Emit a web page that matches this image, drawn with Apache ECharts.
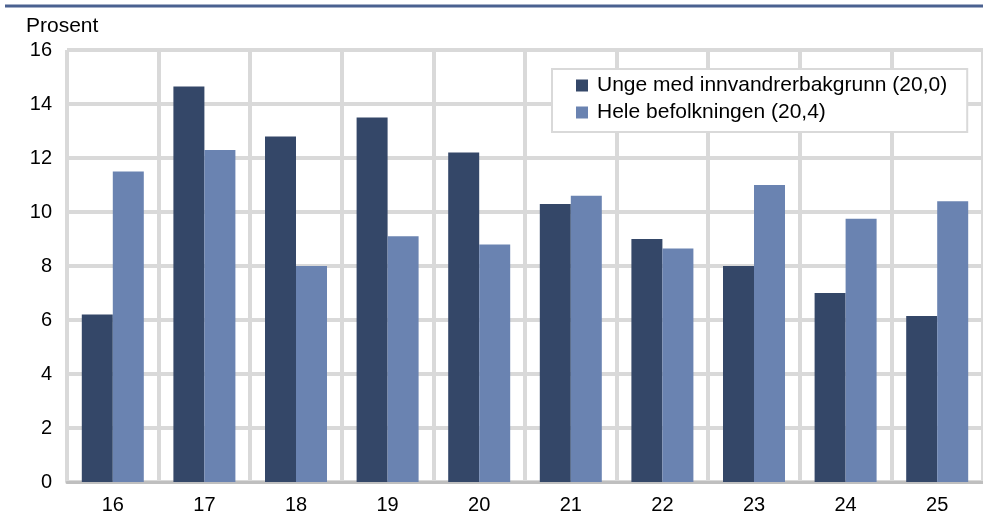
<!DOCTYPE html>
<html>
<head>
<meta charset="utf-8">
<script src="https://cdn.jsdelivr.net/npm/echarts@6/dist/echarts.min.js"></script>
<style>
html,body{margin:0;padding:0;background:#fff;}
#chart{width:983px;height:526px;}
</style>
</head>
<body>
<div id="chart"></div>
<script>
const categories = ['16','17','18','19','20','21','22','23','24','25'];
const seriesNames = ['Unge med innvandrerbakgrunn (20,0)', 'Hele befolkningen (20,4)'];
const ungeValues = [6.2, 14.65, 12.8, 13.5, 12.2, 10.3, 9.0, 8.0, 7.0, 6.15];
const heleValues = [11.5, 12.3, 8.0, 9.1, 8.8, 10.6, 8.65, 11.0, 9.75, 10.4];
const yTicks = {min: 0, max: 16, interval: 2};
const yTitle = 'Prosent';

const FONT = '"Liberation Sans", Arial, sans-serif';
const chart = echarts.init(document.getElementById('chart'), null, {renderer: 'canvas'});
chart.setOption({
  animation: false,
  backgroundColor: '#ffffff',
  textStyle: {fontFamily: FONT},
  grid: {left: 67, right: 0, top: 50, bottom: 44, containLabel: false},
  graphic: [
    {type: 'line', shape: {x1: 5, y1: 6, x2: 983, y2: 6}, style: {stroke: '#4a6190', lineWidth: 3}},
    {type: 'text', left: 26, top: 16, style: {text: yTitle, font: '21px ' + FONT, fill: '#000'}}
  ],
  legend: {
    orient: 'vertical',
    left: 552, top: 69,
    backgroundColor: '#ffffff',
    borderColor: '#d9d9d9', borderWidth: 2,
    padding: [6, 20, 9, 24],
    itemWidth: 12, itemHeight: 12, itemGap: 6,
    icon: 'rect',
    textStyle: {fontSize: 21, color: '#000', fontFamily: FONT, padding: [0, 0, 0, 4]},
    data: seriesNames
  },
  xAxis: {
    type: 'category',
    data: categories,
    axisLine: {show: true, lineStyle: {color: '#bfbfbf', width: 3}},
    axisTick: {show: false},
    axisLabel: {fontSize: 20, color: '#000', margin: 13, fontFamily: FONT},
    splitLine: {show: true, lineStyle: {color: '#d9d9d9', width: 4}}
  },
  yAxis: {
    type: 'value',
    min: yTicks.min, max: yTicks.max, interval: yTicks.interval,
    axisLine: {show: false},
    axisTick: {show: false},
    axisLabel: {fontSize: 20, color: '#000', margin: 15, fontFamily: FONT},
    splitLine: {show: true, lineStyle: {color: '#d9d9d9', width: 4}}
  },
  series: [
    {name: seriesNames[0], type: 'bar', data: ungeValues, barWidth: 31, barGap: '0%',
     itemStyle: {color: '#344768'}},
    {name: seriesNames[1], type: 'bar', data: heleValues, barWidth: 31, barGap: '0%',
     itemStyle: {color: '#6a83b1'}}
  ]
});
</script>
</body>
</html>
